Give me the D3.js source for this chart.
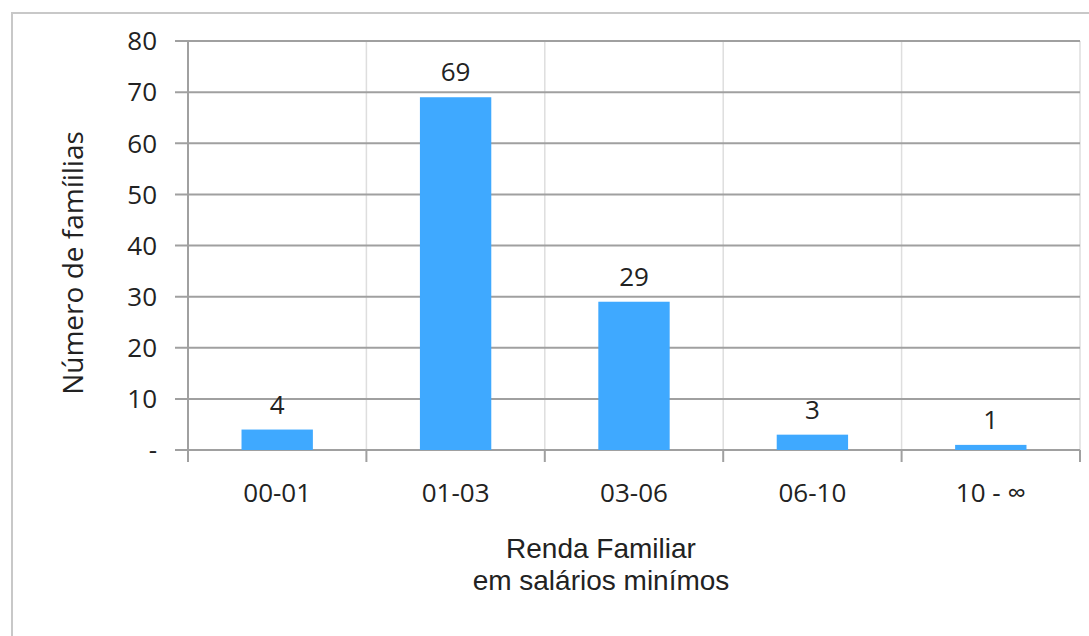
<!DOCTYPE html>
<html>
<head>
<meta charset="utf-8">
<script src="https://cdn.jsdelivr.net/npm/d3@7"></script>
<style>
  body { margin: 0; background: #fff; }
  svg { display: block; }
</style>
</head>
<body>
<div id="chart"></div>
<script>
var categories = ["00-01", "01-03", "03-06", "06-10", "10 - \u221e"];
var values = [4, 69, 29, 3, 1];
var yTicks = [0, 10, 20, 30, 40, 50, 60, 70, 80];

var width = 1089,
    height = 636;

var margin = { top: 41, right: 9, bottom: 186, left: 188 };
var plotW = width - margin.left - margin.right,
    plotH = height - margin.top - margin.bottom;

var svg = d3.select("#chart")
    .append("svg")
    .attr("width", width)
    .attr("height", height);

// outer frame
svg.append("path")
    .attr("d", "M12,640 L12,13 L1095,13")
    .attr("fill", "none")
    .attr("stroke", "#c8c8c8")
    .attr("stroke-width", 2);

var g = svg.append("g")
    .attr("transform", "translate(" + margin.left + "," + margin.top + ")");

var x = d3.scaleBand()
    .domain(categories)
    .range([0, plotW])
    .paddingInner(0.6)
    .paddingOuter(0.3);

var xEdge = d3.scaleLinear()
    .domain([0, categories.length])
    .range([0, plotW]);

var y = d3.scaleLinear()
    .domain([0, 80])
    .range([plotH, 0]);

// vertical light gridlines at category boundaries
g.selectAll(".vgrid")
    .data(d3.range(1, categories.length + 1))
    .enter()
    .append("line")
    .attr("x1", function (d) { return xEdge(d); })
    .attr("x2", function (d) { return xEdge(d); })
    .attr("y1", 0)
    .attr("y2", plotH)
    .attr("stroke", "#dedede")
    .attr("stroke-width", 1.5);

// horizontal gridlines
g.selectAll(".hgrid")
    .data(yTicks)
    .enter()
    .append("line")
    .attr("x1", -13)
    .attr("x2", plotW)
    .attr("y1", function (d) { return y(d); })
    .attr("y2", function (d) { return y(d); })
    .attr("stroke", "#a0a0a0")
    .attr("stroke-width", 2);

// y axis line
g.append("line")
    .attr("x1", 0).attr("x2", 0)
    .attr("y1", 0).attr("y2", plotH)
    .attr("stroke", "#a0a0a0")
    .attr("stroke-width", 2);

// x tick marks
g.selectAll(".xtick")
    .data(d3.range(0, categories.length + 1))
    .enter()
    .append("line")
    .attr("x1", function (d) { return xEdge(d); })
    .attr("x2", function (d) { return xEdge(d); })
    .attr("y1", plotH)
    .attr("y2", plotH + 12)
    .attr("stroke", "#a0a0a0")
    .attr("stroke-width", 2);

// y tick labels
g.selectAll(".ylab")
    .data(yTicks)
    .enter()
    .append("text")
    .attr("x", -31)
    .attr("y", function (d) { return y(d); })
    .attr("dy", "0.36em")
    .attr("text-anchor", "end")
    .attr("font-family", "Open Sans, sans-serif")
    .attr("font-size", 26)
    .attr("fill", "#222")
    .text(function (d) { return d === 0 ? "-" : d; });

// bars
g.selectAll(".bar")
    .data(values)
    .enter()
    .append("rect")
    .attr("x", function (d, i) { return x(categories[i]); })
    .attr("width", x.bandwidth())
    .attr("y", function (d) { return y(d); })
    .attr("height", function (d) { return plotH - y(d); })
    .attr("fill", "#3fa9ff");

// value labels
g.selectAll(".vlab")
    .data(values)
    .enter()
    .append("text")
    .attr("x", function (d, i) { return x(categories[i]) + x.bandwidth() / 2; })
    .attr("y", function (d) { return y(d) - 16; })
    .attr("text-anchor", "middle")
    .attr("font-family", "Open Sans, sans-serif")
    .attr("font-size", 26)
    .attr("fill", "#222")
    .text(function (d) { return d; });

// x labels
g.selectAll(".xlab")
    .data(categories)
    .enter()
    .append("text")
    .attr("x", function (d) { return x(d) + x.bandwidth() / 2; })
    .attr("y", plotH + 52)
    .attr("text-anchor", "middle")
    .attr("font-family", "Open Sans, sans-serif")
    .attr("font-size", 26)
    .attr("fill", "#222")
    .text(function (d) { return d; });

// x axis title
var xt = svg.append("text")
    .attr("text-anchor", "middle")
    .attr("font-family", "Liberation Sans, Arial, sans-serif")
    .attr("font-size", 28)
    .attr("fill", "#222");
xt.append("tspan").attr("x", 601).attr("y", 558).text("Renda Familiar");
xt.append("tspan").attr("x", 601).attr("y", 590).text("em salários minímos");

// y axis title
svg.append("text")
    .attr("transform", "translate(83,263) rotate(-90)")
    .attr("text-anchor", "middle")
    .attr("font-family", "Open Sans, sans-serif")
    .attr("font-size", 28)
    .attr("fill", "#222")
    .text("Número de famíilias");
</script>
</body>
</html>
